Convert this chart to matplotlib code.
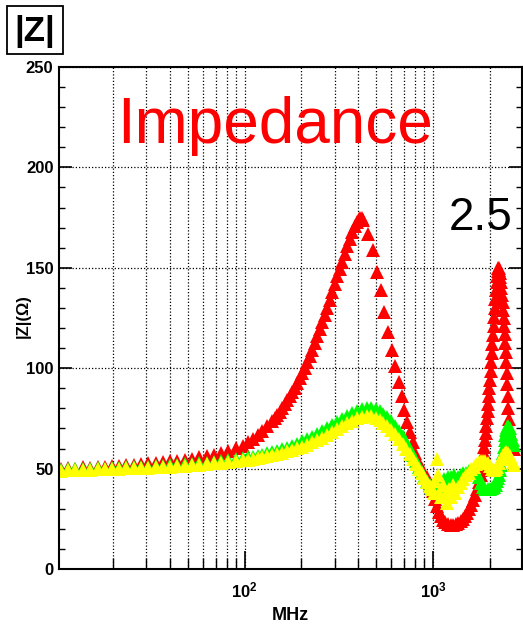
import numpy as np
import matplotlib.pyplot as plt
from matplotlib.ticker import LogLocator, MultipleLocator, NullFormatter
from matplotlib.patches import Rectangle

plt.rcParams['font.family'] = ['Liberation Sans', 'DejaVu Sans']
plt.rcParams['mathtext.fontset'] = 'custom'
plt.rcParams['mathtext.rm'] = 'Liberation Sans'
plt.rcParams['mathtext.bf'] = 'Liberation Sans:bold'

# |Z| (Ohm) vs frequency (MHz)
red_freq = [10.5, 11.5, 12.6, 13.8, 15.1, 16.5, 18.0, 19.7, 21.5, 23.5, 25.7, 28.1, 30.7,
            33.6, 36.7, 40.1, 43.8, 47.9, 52.4, 57.3, 62.6, 68.4, 74.8, 81.8, 89.4, 97.7,
            104, 110, 117, 124, 132, 140, 144, 149, 153, 158, 163, 168, 173, 179, 184,
            190, 196, 202, 208, 215, 221, 228, 235, 243, 250, 258, 266, 274, 282, 291,
            300, 310, 319, 329, 339, 350, 361, 372, 383, 395, 402, 410, 418, 425,
            452, 480, 504, 530, 549, 577, 606, 628, 660, 684, 701, 727, 755, 783, 802,
            832, 874, 929, 964,
            1000, 1025, 1050, 1075, 1100, 1130, 1160, 1200, 1240, 1280, 1320, 1360, 1400,
            1440, 1480, 1520, 1560, 1600, 1640, 1680, 1720, 1760, 1800,
            1815, 1830, 1845, 1860, 1875, 1890, 1905, 1920, 1935, 1950, 1965, 1980, 1995,
            2010, 2025, 2040, 2055, 2070, 2085, 2100, 2115, 2130, 2145, 2160, 2175, 2190,
            2205, 2220, 2235, 2250, 2265, 2280, 2295, 2310, 2325, 2340, 2355, 2370, 2385,
            2400, 2415, 2430, 2445, 2460, 2475, 2490, 2505, 2520, 2540, 2560, 2580, 2600,
            2630, 2660, 2690]
red_z = [50.0, 50.5, 50.0, 50.8, 50.5, 51.0, 51.0, 51.5, 51.4, 52.0, 52.0, 52.5, 52.6,
         53.0, 53.2, 53.6, 54.0, 54.5, 55.0, 55.6, 56.3, 57.0, 58.0, 59.0, 60.2, 61.5,
         63, 64.5, 66.5, 68.5, 71, 73.5, 75, 76.5, 78, 80, 82, 84, 86, 88, 90,
         92.5, 95, 97.5, 100, 103, 106, 109, 112.5, 116, 119.5, 123, 126.5, 130, 134, 138,
         142, 146, 149.5, 153, 157, 161, 164.5, 168, 171, 173, 174.5, 175, 175, 174,
         167, 159, 148, 139, 128, 118, 109, 101, 93, 86, 79, 73, 68, 63, 58,
         54, 50, 46, 43,
         39, 35, 31.5, 28.5, 26.5, 24.5, 23.5, 22.5, 22, 22, 22.5, 23, 24,
         25, 26.5, 28, 30, 32, 34.5, 37, 40, 43.5, 47,
         49.5, 52, 55, 58, 61, 64, 67.5, 71, 75, 78.5, 82, 86, 90,
         94, 98.5, 103, 107.5, 112, 116.5, 121, 125.5, 130, 134.5, 139, 143, 146,
         148.5, 150, 150, 149, 147.5, 145.5, 143, 140, 136.5, 133, 129, 125, 121,
         117, 112.5, 108, 103, 97.5, 92, 86, 80, 74.5, 69, 65, 62.5, 61,
         60, 60, 60]

green_freq = [10.5, 11.5, 12.6, 13.8, 15.1, 16.5, 18.0, 19.7, 21.5, 23.5, 25.7, 28.1, 30.7,
              33.6, 36.7, 40.1, 43.8, 47.9, 52.4, 57.3, 62.6, 68.4, 74.8, 81.8, 89.4, 97.7,
              104, 110, 117, 124, 132, 140, 149, 158, 168, 179, 190, 202, 215, 228, 243,
              258, 274, 291, 310, 329, 350, 372, 395, 420, 445, 470, 495, 520, 545, 570,
              600, 630, 660, 690, 720, 750, 780, 810, 840, 870, 900, 930, 960, 990,
              1020, 1050, 1100, 1150, 1200, 1250, 1300, 1350, 1400, 1450, 1500, 1550, 1600,
              1650, 1700, 1750, 1800, 1850, 1900, 1950, 2000, 2050, 2100, 2150, 2200,
              2225, 2250, 2275, 2300, 2325, 2350, 2375, 2400, 2425, 2450, 2475, 2500,
              2550, 2600, 2650, 2700]
green_z = [49.5, 49.8, 49.6, 50.0, 49.8, 50.2, 50.0, 50.4, 50.3, 50.6, 50.6, 50.9, 51.0,
           51.2, 51.4, 51.6, 51.8, 52.1, 52.4, 52.7, 53.0, 53.4, 53.8, 54.2, 54.7, 55.2,
           55.6, 56, 56.5, 57, 57.7, 58.3, 59, 59.8, 60.5, 61.5, 62.5, 63.5, 64.5, 65.5, 67,
           68.5, 70, 71.5, 73, 74.5, 76, 77.5, 78.5, 79.5, 80, 80, 79.5, 78.5, 77, 75.5,
           73.5, 71, 68.5, 66, 63, 60, 57, 54, 51, 48.5, 46, 44, 42, 40.5,
           40, 41, 43, 45, 46, 46, 47, 46, 47, 48, 48, 49, 49,
           49, 48, 46, 43, 41, 40, 40, 40, 40.5, 41, 42, 44,
           45.5, 47, 49.5, 52, 55, 58, 61, 64, 66.5, 69, 70.5, 71,
           70, 67, 64, 62]

yellow_freq = [10.5, 11.5, 12.6, 13.8, 15.1, 16.5, 18.0, 19.7, 21.5, 23.5, 25.7, 28.1, 30.7,
               33.6, 36.7, 40.1, 43.8, 47.9, 52.4, 57.3, 62.6, 68.4, 74.8, 81.8, 89.4, 97.7,
               104, 110, 117, 124, 132, 140, 149, 158, 168, 179, 190, 202, 215, 228, 243,
               258, 274, 291, 310, 329, 350, 372, 395, 420, 445, 470, 495, 520, 545, 570,
               600, 630, 660, 690, 720, 750, 780, 810, 840, 870, 900, 930, 960, 990,
               1010, 1030, 1045, 1060, 1080, 1100, 1130, 1160, 1190, 1220, 1250, 1280, 1310,
               1350, 1400, 1450, 1500, 1550, 1600, 1650, 1700, 1750, 1800, 1850, 1900,
               1950, 2000, 2050, 2100, 2150, 2200, 2250, 2300, 2350, 2400, 2450, 2500,
               2550, 2600, 2650, 2700]
yellow_z = [49.0, 49.3, 49.1, 49.5, 49.3, 49.7, 49.6, 49.9, 49.8, 50.1, 50.1, 50.4, 50.5,
            50.7, 50.8, 51.0, 51.2, 51.5, 51.7, 52.0, 52.3, 52.6, 53.0, 53.3, 53.7, 54.1,
            54.4, 54.8, 55.2, 55.7, 56.2, 56.7, 57.3, 58, 58.6, 59.4, 60.2, 61, 62, 63, 64,
            65.2, 66.5, 68, 69.5, 71, 72.5, 73.8, 75, 75.8, 76.2, 76, 75.3, 74.2, 72.8, 71.3,
            69.3, 67, 64.8, 62.4, 60, 57.5, 55, 52.5, 50, 47.8, 45.5, 43.5, 41.5, 40,
            38, 44, 55, 47, 38, 36, 42, 37, 33, 40, 36, 42, 38,
            41, 43, 45, 47, 48, 50, 51, 52.5, 53.5, 54, 54, 54,
            53, 51.5, 50, 49.5, 50, 51, 53, 55, 57, 58, 58.5, 58,
            56.5, 55, 53.5, 52]

y_ticks = [0, 50, 100, 150, 200, 250]
x_ticks = [100, 1000]
x_tick_labels = [r'$\mathbf{10^{2}}$', r'$\mathbf{10^{3}}$']

fig = plt.figure(figsize=(5.23, 6.25), dpi=100)
ax = fig.add_axes([59 / 523, 1 - 569 / 625, 463 / 523, 502 / 625])

for f, z, c in [(red_freq, red_z, '#ff0000'),
                (green_freq, green_z, '#00ff00'),
                (yellow_freq, yellow_z, '#ffff00')]:
    ax.plot(f, z, linestyle='none', marker='^', markersize=10,
            markeredgewidth=0, color=c)

ax.set_xscale('log')
ax.set_xlim(10.3, 2970)
ax.set_ylim(0, 250)

ax.set_xticks(x_ticks)
ax.set_xticklabels(x_tick_labels, fontsize=12)
ax.xaxis.set_minor_locator(LogLocator(base=10, subs=np.arange(2, 10), numticks=50))
ax.xaxis.set_minor_formatter(NullFormatter())
ax.set_yticks(y_ticks)
ax.set_yticklabels([str(v) for v in y_ticks], fontsize=12, fontweight='bold')
ax.yaxis.set_minor_locator(MultipleLocator(10))

ax.tick_params(axis='y', which='major', direction='in', length=9.5, width=1.2,
               left=True, right=True, pad=4)
ax.tick_params(axis='y', which='minor', direction='in', length=4.5, width=1.0,
               left=True, right=True)
ax.tick_params(axis='x', which='major', direction='in', length=13, width=1.2,
               top=False, pad=8)
ax.tick_params(axis='x', which='minor', direction='in', length=8, width=1.0, top=False)

ax.set_axisbelow(True)
ax.grid(True, which='both', axis='x', color='k', linestyle=(0, (1, 1.6)), linewidth=0.9)
ax.grid(True, which='major', axis='y', color='k', linestyle=(0, (1, 1.6)), linewidth=0.9)
for s in ax.spines.values():
    s.set_linewidth(1.5)

# title box, axis titles and annotations
fig.add_artist(Rectangle((7 / 523, 1 - 54 / 625), 56 / 523, 48 / 625, fill=False,
                         linewidth=1.3, edgecolor='k', transform=fig.transFigure))
fig.text(35 / 523, 1 - 31 / 625, '|Z|', ha='center', va='center', fontsize=25,
         fontweight='bold')
fig.text(23 / 523, 1 - 316 / 625, '|Z|(\u03a9)', rotation=90, ha='center', va='center',
         fontsize=12, fontweight='bold')
fig.text(290 / 523, 1 - 615 / 625, 'MHz', ha='center', va='center', fontsize=13,
         fontweight='bold')
fig.text(117 / 523, 1 - 143 / 625, 'Impedance', color='#ff0000', fontsize=46,
         ha='left', va='baseline')
fig.text(449 / 523, 1 - 230 / 625, '2.5', color='k', fontsize=33, ha='left', va='baseline')

fig.savefig('out.png', dpi=100)
